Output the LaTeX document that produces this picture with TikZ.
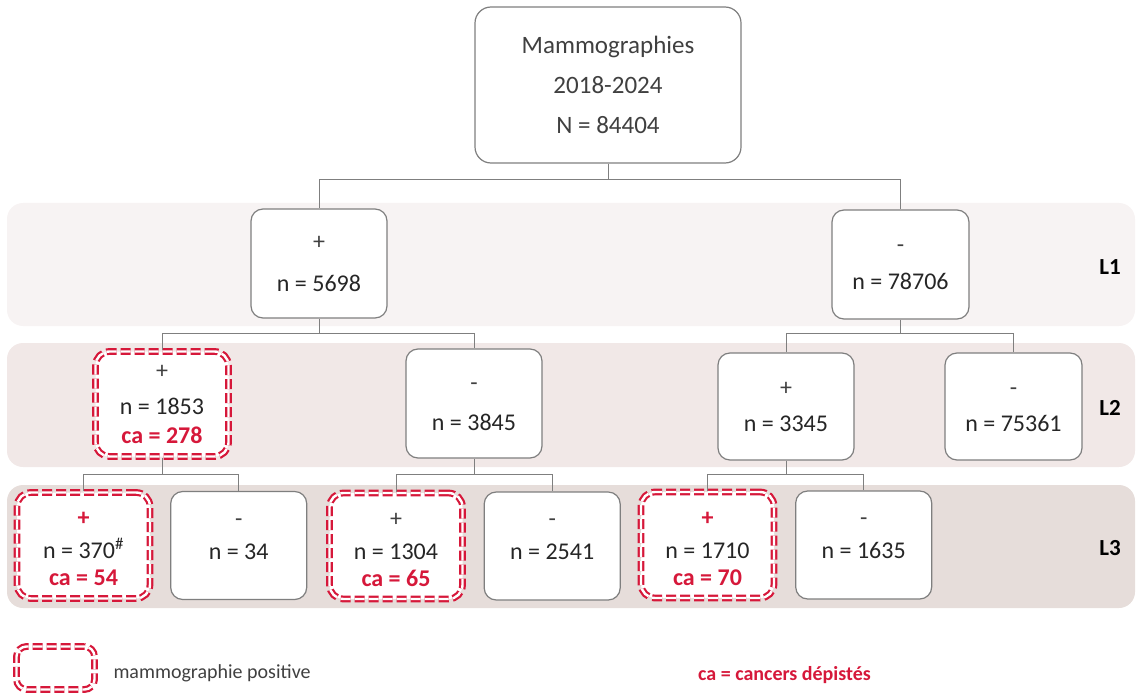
\documentclass[tikz,border=0pt]{standalone}
\usepackage{fontspec}
\setmainfont{Carlito}
\usetikzlibrary{positioning}

\definecolor{signgray}{HTML}{404040}
\definecolor{txtdark}{HTML}{262626}
\definecolor{linegray}{HTML}{7F7F7F}
\definecolor{cared}{RGB}{214,24,58}
\definecolor{bandA}{RGB}{247,243,243}
\definecolor{bandB}{RGB}{241,232,231}
\definecolor{bandC}{RGB}{230,221,218}

% sign line: same height for + and -
\newcommand{\sg}[1]{\textcolor{signgray}{#1}\vphantom{+}}
\newcommand{\sgred}[1]{\textcolor{cared}{\bfseries #1}\vphantom{+}}
\newcommand{\catxt}[1]{\textcolor{cared}{\bfseries ca = #1}}
% extra room above the first line of the bottom row
\newcommand{\lift}{\rule{0pt}{21pt}}

\begin{document}
\begin{tikzpicture}[
  x=1pt, y=-1pt,
  font=\fontsize{24}{29}\selectfont,
  box/.style={draw=linegray,line width=1.2pt,rounded corners=12pt,fill=white,
              align=center,text=txtdark,inner sep=0pt,
              minimum width=136pt,minimum height=108pt},
  posbox/.style={box,draw=cared,line width=2.2pt,double=white,
                 double distance=2.4pt,dash pattern=on 10pt off 4pt,
                 rounded corners=14pt,minimum width=133pt,minimum height=106pt},
  band/.style={rounded corners=16pt},
  link/.style={draw=linegray,line width=1pt},
  level/.style={font=\fontsize{23}{28}\selectfont\bfseries,text=black}
]
\useasboundingbox (0,0) rectangle (1136,698);

% level bands
\fill[bandA,band] (7,203) rectangle (1135,326);
\fill[bandB,band] (7,343) rectangle (1135,467);
\fill[bandC,band] (7,485) rectangle (1135,608);

\node[level] (lvA) at (1110,267) {L1};
\node[level] (lvB) at (1110,408) {L2};
\node[level] (lvC) at (1110,548) {L3};

% root
\node[box,minimum width=266pt,minimum height=156pt,rounded corners=16pt,
      text=signgray,font=\fontsize{25}{30}\selectfont] (root) at (608,85)
 {Mammographies\\[10pt]2018-2024\\[10pt]N = 84404};

% L1
\node[box,minimum height=109pt] (pos) at (319,263.5) {\sg{+}\\[13pt]n = 5698};
\node[box,minimum width=137pt,minimum height=109pt] (neg) at (900.5,264.5)
 {\sg{-}\\[8pt]n = 78706};

% L2
\node[posbox,minimum height=105pt] (pos-pos) at (162,404)
 {\sg{+}\\[7pt]n = 1853\\\catxt{278}};
\node[box,minimum height=109pt] (pos-neg) at (474,403.5) {\sg{-}\\[11pt]n = 3845};
\node[box,minimum height=107pt] (neg-pos) at (786,406.5) {\sg{+}\\[7pt]n = 3345};
\node[box,minimum width=137pt,minimum height=107pt] (neg-neg) at (1013.5,406.5)
 {\sg{-}\\[7pt]n = 75361};

% L3
\node[posbox] (pos-pos-pos) at (83.5,545.5)
 {\lift\sgred{+}\\[4pt]n = 370\textsuperscript{\#}\\[-2pt]\catxt{54}};
\node[box,right=19pt of pos-pos-pos] (pos-pos-neg)
 {\lift\sg{-}\\[4pt]n = 34\\[-2pt]\mbox{}};
\node[posbox] (pos-neg-pos) at (396,546)
 {\lift\sg{+}\\[4pt]n = 1304\\[-2pt]\catxt{65}};
\node[box,right=20pt of pos-neg-pos] (pos-neg-neg)
 {\lift\sg{-}\\[4pt]n = 2541\\[-2pt]\mbox{}};
\node[posbox] (neg-pos-pos) at (707.5,545)
 {\lift\sgred{+}\\[4pt]n = 1710\\[-2pt]\catxt{70}};
\node[box,right=20pt of neg-pos-pos] (neg-pos-neg)
 {\lift\sg{-}\\[4pt]n = 1635\\[-2pt]\mbox{}};

% tree links
\coordinate (barA) at (0,180);
\coordinate (barB) at (0,333);
\coordinate (barC) at (0,474);
\draw[link] (root.south) -- (root.south |- barA) -| (pos.north);
\draw[link] (root.south |- barA) -| (neg.north);
\draw[link] (pos.south) -- (pos.south |- barB) -| (pos-pos.north);
\draw[link] (pos.south |- barB) -| (pos-neg.north);
\draw[link] (neg.south) -- (neg.south |- barB) -| (neg-pos.north);
\draw[link] (neg.south |- barB) -| (neg-neg.north);
\draw[link] (pos-pos.south) -- (pos-pos.south |- barC) -| (pos-pos-pos.north);
\draw[link] (pos-pos.south |- barC) -| (pos-pos-neg.north);
\draw[link] (pos-neg.south) -- (pos-neg.south |- barC) -| (pos-neg-pos.north);
\draw[link] (pos-neg.south |- barC) -| (pos-neg-neg.north);
\draw[link] (neg-pos.south) -- (neg-pos.south |- barC) -| (neg-pos-pos.north);
\draw[link] (neg-pos.south |- barC) -| (neg-pos-neg.north);

% legend
\node[posbox,minimum width=78pt,minimum height=43pt,rounded corners=10pt]
 (legbox) at (55.5,668) {};
\node[right=11pt of legbox,yshift=-5pt,inner sep=6.7pt,
      font=\fontsize{20}{24}\selectfont,text=signgray] (legtext)
 {mammographie positive};
\node[font=\fontsize{20}{24}\selectfont\bfseries,text=cared] (calegend)
 at (784.5,675) {ca = cancers dépistés};
\end{tikzpicture}
\end{document}
